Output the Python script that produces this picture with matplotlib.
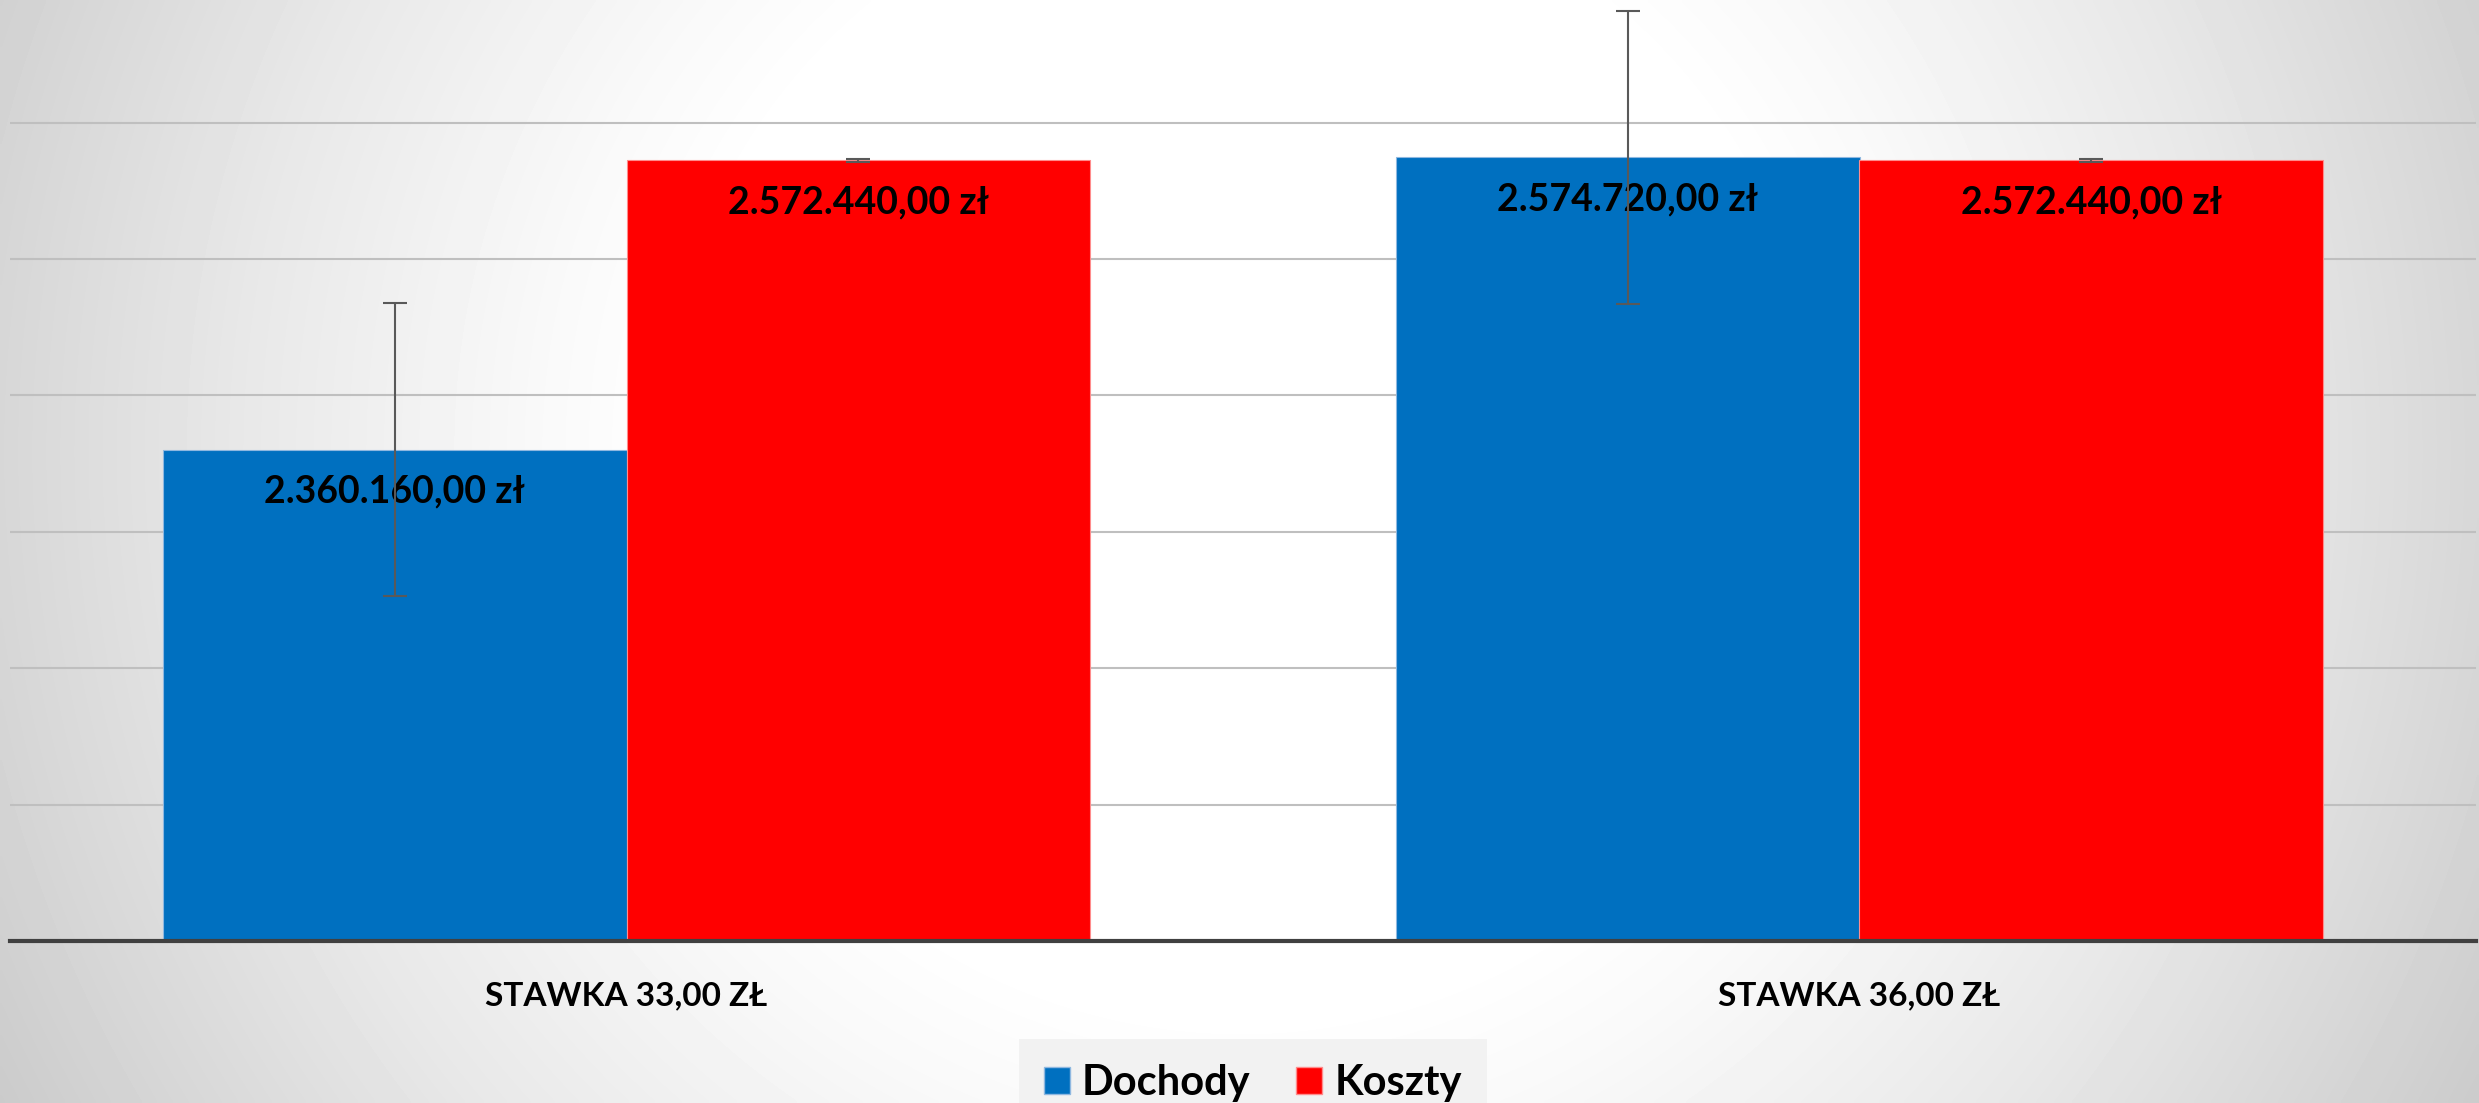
import numpy as np
import matplotlib
matplotlib.use("Agg")
import matplotlib.pyplot as plt
from matplotlib.patches import Patch

# ---------------- data ----------------
categories = ["STAWKA 33,00 ZŁ", "STAWKA 36,00 ZŁ"]
series_names = ["Dochody", "Koszty"]
dochody = [2360160.00, 2574720.00]
koszty = [2572440.00, 2572440.00]
dochody_err = [107300, 107300]
koszty_err = [1140, 1140]
y_grid = [2000000, 2100000, 2200000, 2300000, 2400000, 2500000, 2600000]

# ---------------- style ----------------
FONT = ["Lato", "DejaVu Sans"]
plt.rcParams["font.family"] = FONT
BLUE = "#0070C0"
RED = "#FF0000"

W, H, DPI = 2479, 1103, 100
fig = plt.figure(figsize=(W / DPI, H / DPI), dpi=DPI)

# radial grey-to-white background
bg = fig.add_axes([0, 0, 1, 1], zorder=-10)
yy, xx = np.mgrid[0:H:4, 0:W:4]
r = np.hypot(xx - 1240, yy - 450)
v = np.interp(r, [0, 560, 700, 1000, 1240, 1400, 1600],
              [255, 255, 249, 232, 215, 203, 195]) / 255.0
bg.imshow(v, cmap="gray", vmin=0, vmax=1, extent=[0, 1, 0, 1],
          aspect="auto", interpolation="bilinear", origin="upper")
bg.axis("off")

ax = fig.add_axes([10 / W, 1 - 941 / H, 2466 / W, 941 / H])
ax.set_facecolor("none")

x = np.arange(len(categories))
w = 0.376
err_kw = dict(ecolor="#595959", elinewidth=1.5, capsize=8.6, capthick=1.5, zorder=5)
b1 = ax.bar(x - w / 2, dochody, w, color=BLUE, edgecolor="#8FB8E0", linewidth=0.8,
            yerr=dochody_err, error_kw=err_kw, zorder=3)
b2 = ax.bar(x + w / 2, koszty, w, color=RED, edgecolor="#FF8C8C", linewidth=0.8,
            yerr=koszty_err, error_kw=err_kw, zorder=3)


def pl_money(val):
    s = f"{val:,.2f}".replace(",", "X").replace(".", ",").replace("X", ".")
    return s + " zł"


for bars, vals in ((b1, dochody), (b2, koszty)):
    for rect, val in zip(bars, vals):
        ax.annotate(pl_money(val), xy=(rect.get_x() + rect.get_width() / 2, val),
                    xytext=(0, -38), textcoords="offset points",
                    ha="center", va="baseline", fontsize=27, fontweight="bold",
                    color="black", zorder=4)

ax.set_xlim(-0.5, 1.5)
ax.set_ylim(2000000, 2690000)
ax.set_yticks(y_grid)
ax.tick_params(axis="y", length=0, labelleft=False)
ax.set_xticks(x, categories)
ax.tick_params(axis="x", length=0, pad=29, labelsize=24)
for lbl in ax.get_xticklabels():
    lbl.set_fontweight("bold")

ax.set_axisbelow(True)
ax.yaxis.grid(True, color="#BFBFBF", linewidth=1.5)
ax.xaxis.grid(False)
for s in ("top", "left", "right"):
    ax.spines[s].set_visible(False)
ax.spines["bottom"].set_color("#404040")
ax.spines["bottom"].set_linewidth(3)
ax.spines["bottom"].set_zorder(6)

handles = [Patch(facecolor=BLUE, edgecolor="#8FB8E0", linewidth=1),
           Patch(facecolor=RED, edgecolor="#FF8C8C", linewidth=1)]
leg = fig.legend(handles, series_names, loc="center",
                 bbox_to_anchor=(1253 / W, 1 - 1083 / H), ncol=2,
                 frameon=True, facecolor="#F2F2F2", edgecolor="none",
                 framealpha=1, fancybox=False,
                 handlelength=0.62, handleheight=0.62, handletextpad=0.3,
                 columnspacing=1.1, borderpad=0.6,
                 prop=dict(family=FONT, weight="bold", size=30))

fig.savefig("out.png", dpi=DPI)
